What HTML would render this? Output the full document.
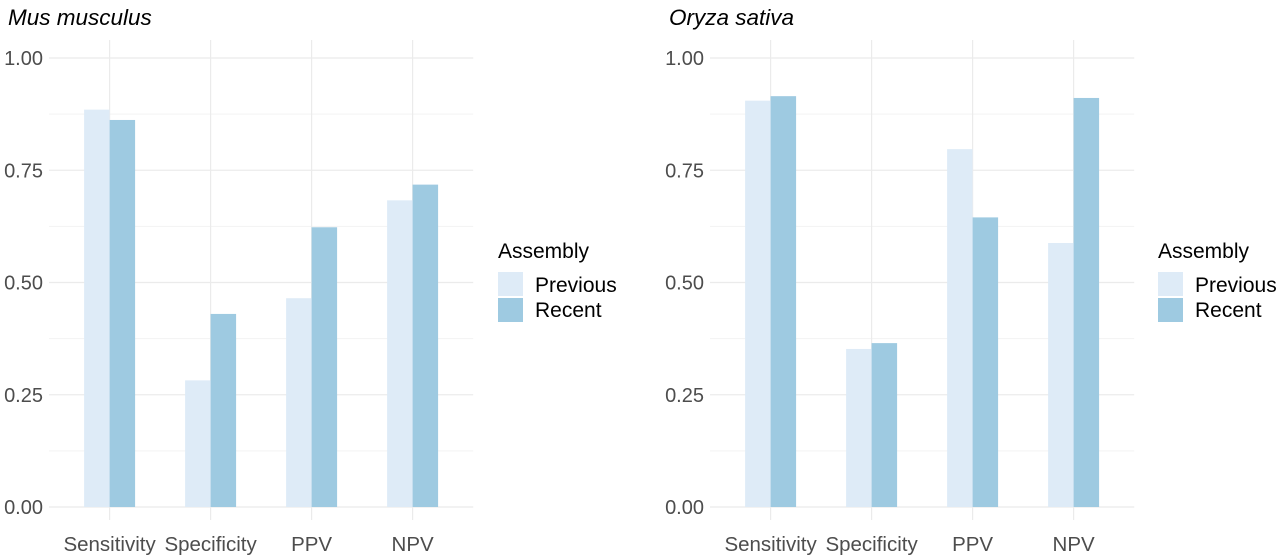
<!DOCTYPE html>
<html><head><meta charset="utf-8"><style>
body{margin:0;background:#fff;}
svg{display:block;font-family:"Liberation Sans",sans-serif;}
</style></head><body>
<svg id="chart" width="1280" height="557" viewBox="0 0 1280 557"></svg>
<script>
const categories=["Sensitivity","Specificity","PPV","NPV"];
const musPrevious=[0.885,0.282,0.465,0.683];
const musRecent=[0.862,0.430,0.623,0.718];
const oryzaPrevious=[0.905,0.352,0.797,0.588];
const oryzaRecent=[0.915,0.365,0.645,0.911];
const yTicks=[0,0.25,0.5,0.75,1.0];
const yTickLabels=["0.00","0.25","0.50","0.75","1.00"];
const seriesNames=["Previous","Recent"];
const colors=["#deebf7","#9ecae1"];
const NS="http://www.w3.org/2000/svg";
const svg=document.getElementById('chart');
function mk(tag,attrs,parent){const e=document.createElementNS(NS,tag);for(const k in attrs)e.setAttribute(k,attrs[k]);(parent||svg).appendChild(e);return e;}
function panel(x0,title,prev,rec,legX,nm){
  const g=mk('g',{});
  
  
  const step=101,left=x0,right=x0+step*4.2;
  const y=v=>507-v*449;
  const xc=i=>left+step*(0.6+i);
  for(let v=0.125;v<1.1;v+=0.25){mk('line',{x1:left,x2:right,y1:y(v),y2:y(v),stroke:'#f3f3f3','stroke-width':1},g);}
  yTicks.forEach((v,i)=>{
    const l=mk('line',{x1:left,x2:right,y1:y(v),y2:y(v),stroke:'#ebebeb','stroke-width':1.2},g);
    
    
    const t=mk('text',{x:left-6,y:y(v)+7,'text-anchor':'end','font-size':20,fill:'#4d4d4d'},g);
    t.textContent=yTickLabels[i];
    
    
  });
  categories.forEach((c,i)=>{
    mk('line',{x1:xc(i),x2:xc(i),y1:40,y2:520,stroke:'#ebebeb','stroke-width':1.2},g);
    const t=mk('text',{x:xc(i),y:551,'text-anchor':'middle','font-size':20.5,fill:'#4d4d4d'},g);
    t.textContent=c;
    
    
  });
  const bw=25.5;
  [prev,rec].forEach((arr,s)=>{
    arr.forEach((v,i)=>{
      const bx=xc(i)+(s===0?-bw:0);
      const r=mk('rect',{x:bx,y:y(v),width:bw,height:y(0)-y(v),fill:colors[s]},g);
      
      
    });
  });
  const tt=mk('text',{x:x0-41,y:25,'font-size':22.5,'font-style':'italic',fill:'#000'},g);
  tt.textContent=title;
  
  
  const lg=mk('g',{},g);
  
  
  const lt=mk('text',{x:legX,y:258,'font-size':21,fill:'#000'},lg);
  lt.textContent='Assembly';
  
  
  seriesNames.forEach((n,s)=>{
    const r=mk('rect',{x:legX,y:272+s*26,width:25,height:24,fill:colors[s]},lg);
    
    
    const t=mk('text',{x:legX+37,y:292+s*25,'font-size':21,fill:'#000'},lg);
    t.textContent=n;
    
    
  });
}
panel(49,'Mus musculus',musPrevious,musRecent,498,'mus-musculus');
panel(710,'Oryza sativa',oryzaPrevious,oryzaRecent,1158,'oryza-sativa');
</script>
</body></html>
